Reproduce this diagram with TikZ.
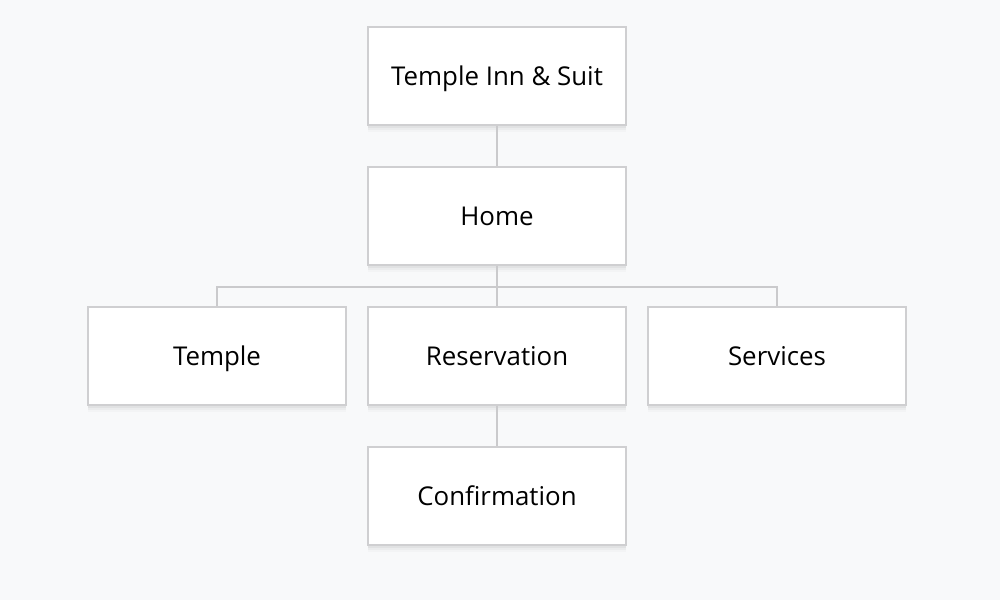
\documentclass[tikz,border=0pt]{standalone}
\usepackage{fontspec}
\setmainfont{Open Sans}
\usetikzlibrary{shadows}
\definecolor{bgc}{HTML}{F8F9FA}
\definecolor{bordc}{HTML}{CFCFD1}
\definecolor{linec}{HTML}{CACACC}
\tikzset{
  pagebox/.style={draw=bordc, line width=1.2pt, fill=white, minimum width=193.5pt, minimum height=73.5pt,
    inner sep=0pt, text height=18.5pt, text depth=4pt, font=\fontsize{19.4}{23}\selectfont,
    drop shadow={shadow xshift=0pt, shadow yshift=-5pt, opacity=0.02, fill=black},
    drop shadow={shadow xshift=0pt, shadow yshift=-3.5pt, opacity=0.03, fill=black},
    drop shadow={shadow xshift=0pt, shadow yshift=-2pt, opacity=0.04, fill=black}},
  link/.style={draw=linec, line width=1.2pt}
}
\begin{document}
\begin{tikzpicture}[x=0.75pt,y=-0.75pt]
\fill[bgc] (0,0) rectangle (1000,600);
\useasboundingbox (0,0) rectangle (1000,600);
\node[pagebox] (top) at (497,76) {Temple Inn \& Suit};
\node[pagebox] (home) at (497,216) {Home};
\node[pagebox] (temple) at (217,356) {Temple};
\node[pagebox] (res) at (497,356) {Reservation};
\node[pagebox] (serv) at (777,356) {Services};
\node[pagebox] (conf) at (497,496) {Confirmation};
\coordinate (j) at (497,287);
\draw[link] (top) -- (home);
\draw[link] (home) -- (res);
\draw[link] (temple.north) |- (j) -| (serv.north);
\draw[link] (res) -- (conf);
\end{tikzpicture}
\end{document}
